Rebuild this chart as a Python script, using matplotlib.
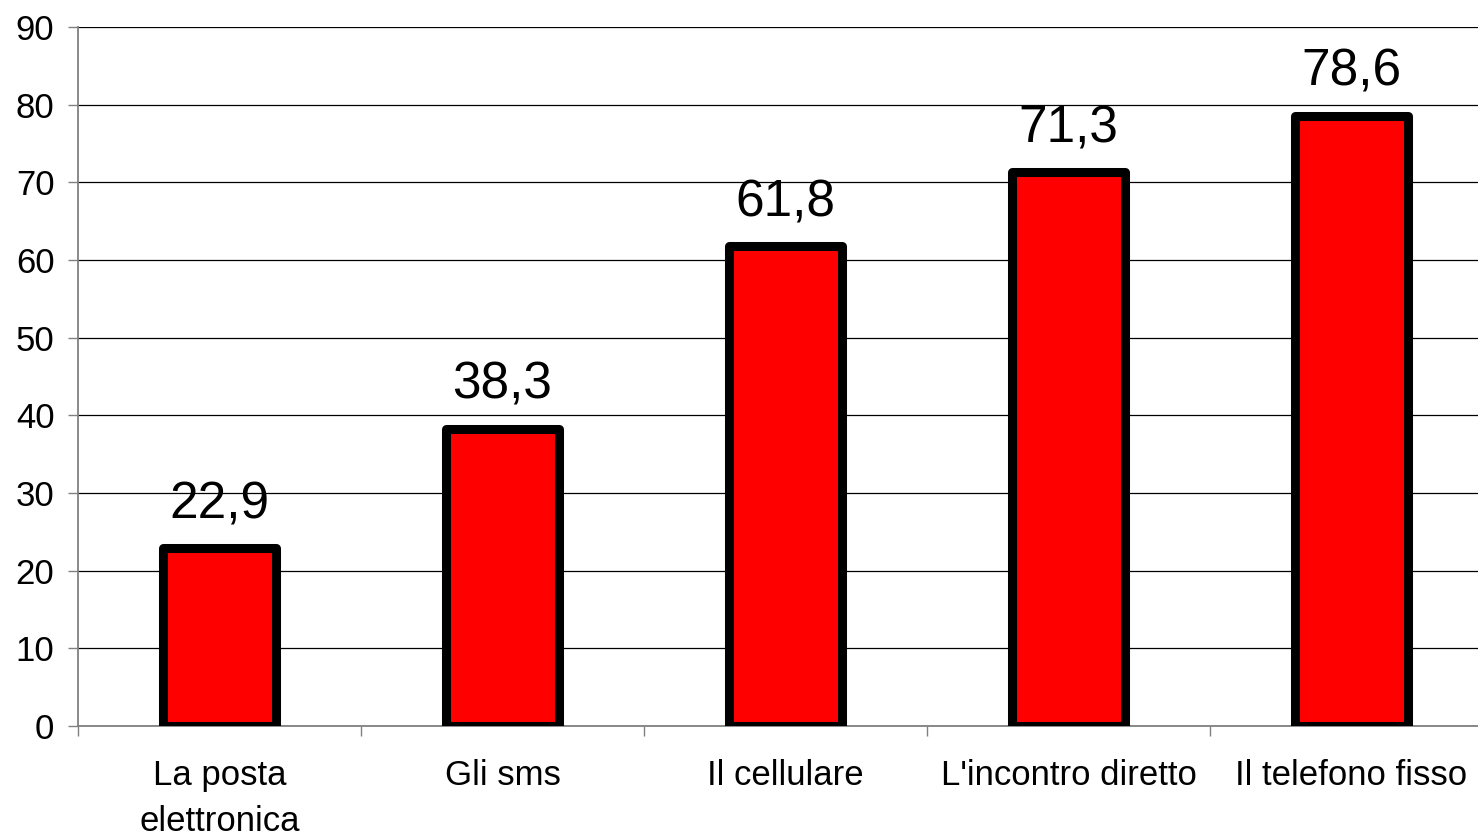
import matplotlib.pyplot as plt

# dati del grafico
categorie = ["La posta\nelettronica", "Gli sms", "Il cellulare",
             "L'incontro diretto", "Il telefono fisso"]
valori = [22.9, 38.3, 61.8, 71.3, 78.6]
etichette = ["22,9", "38,3", "61,8", "71,3", "78,6"]
yticks = [0, 10, 20, 30, 40, 50, 60, 70, 80, 90]

plt.rcParams['font.family'] = ['Liberation Sans', 'DejaVu Sans']

fig = plt.figure(figsize=(14.78, 8.38), dpi=100)
ax = fig.add_axes([78 / 1478, 112 / 838, 1415 / 1478, 699 / 838])

x = list(range(len(categorie)))
bars = ax.bar(x, valori, width=0.40, color='#ff0000', edgecolor='black',
              linewidth=6.5, zorder=3)
for b in bars:
    b.set_joinstyle('round')

for xi, v, t in zip(x, valori, etichette):
    ax.annotate(t, (xi, v), xytext=(0, 13.5), textcoords='offset points',
                ha='center', va='bottom', fontsize=37)

ax.set_xlim(-0.5, len(categorie) - 0.5)
ax.set_ylim(0, 90)
ax.set_yticks(yticks)
ax.set_yticklabels([str(t) for t in yticks], fontsize=25)
ax.set_xticks(x)
ax.set_xticklabels(categorie, fontsize=25, linespacing=1.5)
ax.set_xticks([i - 0.5 for i in range(len(categorie) + 1)], minor=True)

ax.yaxis.grid(True, color='black', linewidth=0.9, zorder=0)
ax.set_axisbelow(True)

ax.tick_params(axis='x', which='major', length=0, pad=24)
ax.tick_params(axis='x', which='minor', length=7, width=1, color='#808080')
ax.tick_params(axis='y', length=7, width=1, color='#808080', pad=10)

for s in ['top', 'right']:
    ax.spines[s].set_visible(False)
for s in ['left', 'bottom']:
    ax.spines[s].set_color('#808080')
    ax.spines[s].set_linewidth(1.3)

fig.savefig('out.png', dpi=100)
